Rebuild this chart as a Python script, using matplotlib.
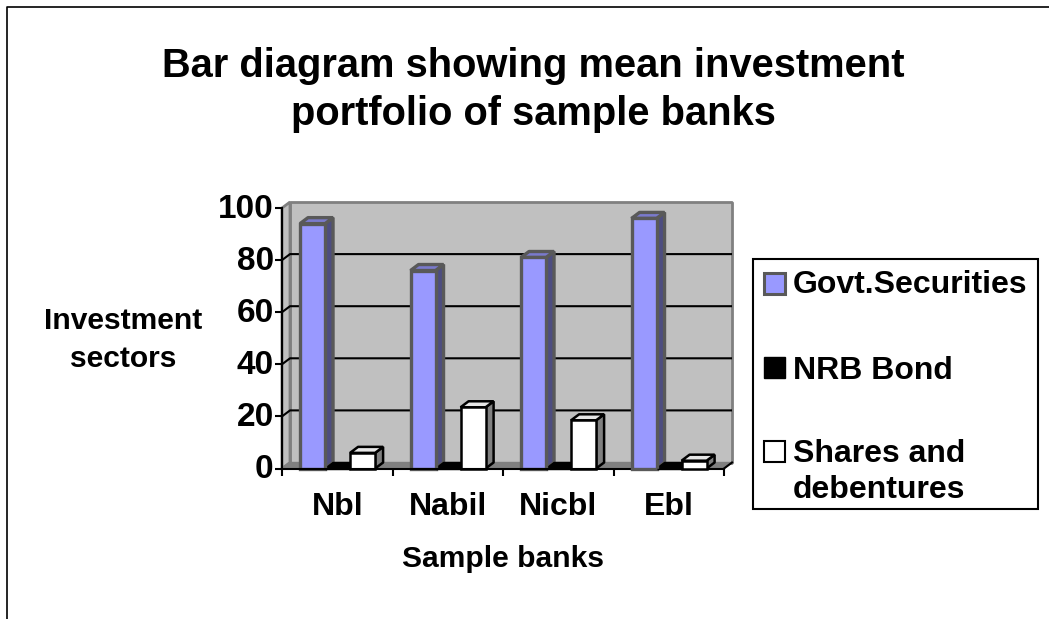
import matplotlib
matplotlib.use('Agg')
import matplotlib.pyplot as plt
from matplotlib.patches import Rectangle
from matplotlib.transforms import ScaledTranslation

plt.rcParams['font.family'] = ['Liberation Sans', 'DejaVu Sans']
plt.rcParams['font.weight'] = 'bold'

banks = ['Nbl', 'Nabil', 'Nicbl', 'Ebl']
govt = [94, 76, 81, 96]
nrb = [0, 0, 0, 0]
shares = [6, 23.5, 18.5, 3]
yticks = [0, 20, 40, 60, 80, 100]

W, H = 1049, 619
# depth of the fake 3d box, in data units
dx = 8 / 110.5
dy = 6 / 2.605
bar_w = 0.2265
bar_start = 0.163

fig = plt.figure(figsize=(W / 100, H / 100), dpi=100, facecolor='white')

# page layer in pixels, for the frame and the legend
page = fig.add_axes([0, 0, 1, 1])
page.set_xlim(0, W)
page.set_ylim(H, 0)
page.axis('off')
page.plot([7, 7, W], [H, 6.5, 6.5], color='black', lw=1.2)

ax = fig.add_axes([282 / W, 1 - 468.5 / H, 442 / W, 260.5 / H])
ax.patch.set_alpha(0)
ax.set_xlim(0, 4)
ax.set_ylim(0, 100)
for s in ['top', 'right']:
    ax.spines[s].set_visible(False)
for s in ['left', 'bottom']:
    ax.spines[s].set_linewidth(1.5)
    ax.spines[s].set_zorder(6)


def face(xs, ys, fc, ec, lw, z):
    ax.fill(xs, ys, facecolor=fc, edgecolor=ec, linewidth=lw, zorder=z,
            clip_on=False, joinstyle='bevel')


# walls and floor
face([dx, 4 + dx, 4 + dx, dx], [dy, dy, 100 + dy, 100 + dy], '#c0c0c0', '#808080', 2, 1)
face([0, dx, dx, 0], [0, dy, 100 + dy, 100], '#c0c0c0', '#808080', 2, 1)
face([0, 4, 4 + dx, dx], [0, 0, dy, dy], '#808080', '#808080', 1, 1)
for v in yticks[1:-1]:
    ax.plot([0, dx, 4 + dx], [v, v + dy, v + dy], color='black', lw=1.5, zorder=2,
            clip_on=False, solid_capstyle='butt')
ax.plot([4, 4 + dx], [0, dy], color='black', lw=1.5, zorder=6, clip_on=False)


def bar3d(x, v, front, side, top, ec, lw, z):
    ax.bar(x, v, bar_w, align='edge', color=front, edgecolor=ec, linewidth=lw, zorder=z + 0.2,
           clip_on=False)
    face([x + bar_w, x + bar_w + dx, x + bar_w + dx, x + bar_w], [0, dy, v + dy, v],
         side, ec, lw, z)
    face([x, x + bar_w, x + bar_w + dx, x + dx], [v, v, v + dy, v + dy], top, ec, lw, z)


for i in range(len(banks)):
    x0 = i + bar_start
    z = 3 + i
    bar3d(x0, govt[i], '#9999ff', '#4d4d80', '#7a7acc', '#595959', 2.4, z)
    bar3d(x0 + bar_w, nrb[i], 'black', 'black', 'black', 'black', 1, z)
    bar3d(x0 + 2 * bar_w, shares[i], 'white', '#808080', '#e6e6e6', 'black', 1.8, z + 0.4)

ax.set_yticks(yticks)
ax.set_xticks(range(5))
ax.set_xticklabels([])
ax.set_xticks([i + 0.5 for i in range(4)], banks, minor=True)
ax.tick_params(axis='both', which='major', width=1.5, length=5, labelsize=24)
ax.tick_params(axis='x', which='minor', length=0, labelsize=23, pad=17)
ax.tick_params(axis='y', pad=1)
# y tick labels sit a little high in the original
for lab in ax.get_yticklabels():
    lab.set_transform(lab.get_transform() + ScaledTranslation(0, 2 / 100, fig.dpi_scale_trans))

ax.set_xlabel('Sample banks', fontsize=21.6, fontweight='bold')
ax.xaxis.set_label_coords(0.5, -0.348, transform=ax.transAxes)
ax.xaxis.label.set_va('center')
ax.set_ylabel('Investment\nsectors', fontsize=21.6, fontweight='bold', rotation=0,
              ha='center', va='center', linespacing=1.46)
ax.yaxis.set_label_coords(-0.36, 0.492)

fig.suptitle('Bar diagram showing mean investment\nportfolio of sample banks', x=533 / W,
             y=1 - 90 / H, va='center', ha='center', fontsize=28.7, fontweight='bold', linespacing=1.36)

# legend
page.add_patch(Rectangle((753, 259), 285, 250, fc='white', ec='black', lw=1.5))
page.add_patch(Rectangle((764, 273), 21, 21, fc='#9999ff', ec='#595959', lw=2.2))
page.add_patch(Rectangle((764, 357), 21, 21, fc='black', ec='black', lw=1))
page.add_patch(Rectangle((764, 441), 21, 21, fc='white', ec='black', lw=1.5))
page.text(793, 285, 'Govt.Securities', fontsize=23, va='center', fontweight='bold')
page.text(793, 371, 'NRB Bond', fontsize=23, va='center', fontweight='bold')
page.text(793, 472, 'Shares and\ndebentures', fontsize=23, va='center', fontweight='bold',
          linespacing=1.26)

fig.savefig('out.png', dpi=100)
